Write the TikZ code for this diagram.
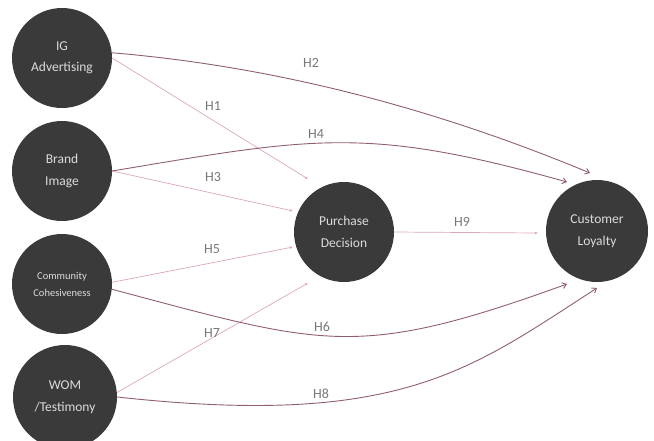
\documentclass[tikz,border=0pt]{standalone}
\usepackage{fontspec}
\setmainfont{Carlito}
\usetikzlibrary{arrows.meta}
\definecolor{circfill}{RGB}{58,58,58}
\definecolor{circtext}{RGB}{220,220,220}
\definecolor{thinline}{RGB}{218,168,180}
\definecolor{curveline}{RGB}{145,95,108}
\definecolor{labelgray}{RGB}{120,120,120}
\begin{document}
\begin{tikzpicture}[x=1pt,y=-1pt,
  construct/.style={circle,fill=circfill,text=circtext,minimum size=100pt,inner sep=0pt,align=center,font=\fontsize{13.5}{21.5}\selectfont},
  thinarrow/.style={draw=thinline,line width=0.7pt,-{Latex[length=3pt,width=2.8pt]}},
  curvearrow/.style={draw=curveline,line width=0.9pt,-{Straight Barb[length=4pt,width=6pt]}},
  hlabel/.style={text=labelgray,font=\fontsize{14}{16}\selectfont,inner sep=0pt}]
\useasboundingbox (0,0) rectangle (654,440);
% constructs
\node[construct] (ig) at (62,58) {IG\\Advertising};
\node[construct] (bi) at (62,171) {Brand\\Image};
\node[construct,font=\fontsize{10.5}{17}\selectfont] (cc) at (62,284) {Community\\Cohesiveness};
\node[construct,minimum size=104pt] (wom) at (65,397) {WOM\\/Testimony};
\node[construct] (pd) at (344,232) {Purchase\\Decision};
\node[construct,minimum size=102pt] (cl) at (597,231) {Customer\\Loyalty};
% arrow tips
\coordinate (t1) at (308,179);
\coordinate (t2) at (590,173);
\coordinate (t3) at (293,211);
\coordinate (t4) at (567,182);
\coordinate (t5) at (293,247);
\coordinate (t6) at (567,284);
\coordinate (t7) at (308,283);
\coordinate (t8) at (597,288);
\coordinate (t9) at (538,233);
% straight paths
\draw[thinarrow] (ig.east) -- (t1);
\draw[thinarrow] (bi.east) -- (t3);
\draw[thinarrow] (cc.2) -- (t5);
\draw[thinarrow] (wom.5) -- (t7);
\draw[thinarrow] (pd.east) -- (t9);
% curved paths
\draw[curvearrow] (ig.6) .. controls (270,66) and (429,106) .. (t2);
\draw[curvearrow] (bi.east) .. controls (315,137) and (367,126) .. (t4);
\draw[curvearrow] (cc.-6) .. controls (325,346) and (357,360) .. (t6);
\draw[curvearrow] (wom.east) .. controls (400,428) and (470,370) .. (t8);
% labels
\node[hlabel] (h1) at (213,106) {H1};
\node[hlabel] (h2) at (311,63) {H2};
\node[hlabel] (h3) at (213,177) {H3};
\node[hlabel] (h4) at (316,134) {H4};
\node[hlabel] (h5) at (212,249) {H5};
\node[hlabel] (h6) at (322,327) {H6};
\node[hlabel] (h7) at (212,333) {H7};
\node[hlabel] (h8) at (321,394) {H8};
\node[hlabel] (h9) at (462,222) {H9};
\end{tikzpicture}
\end{document}
